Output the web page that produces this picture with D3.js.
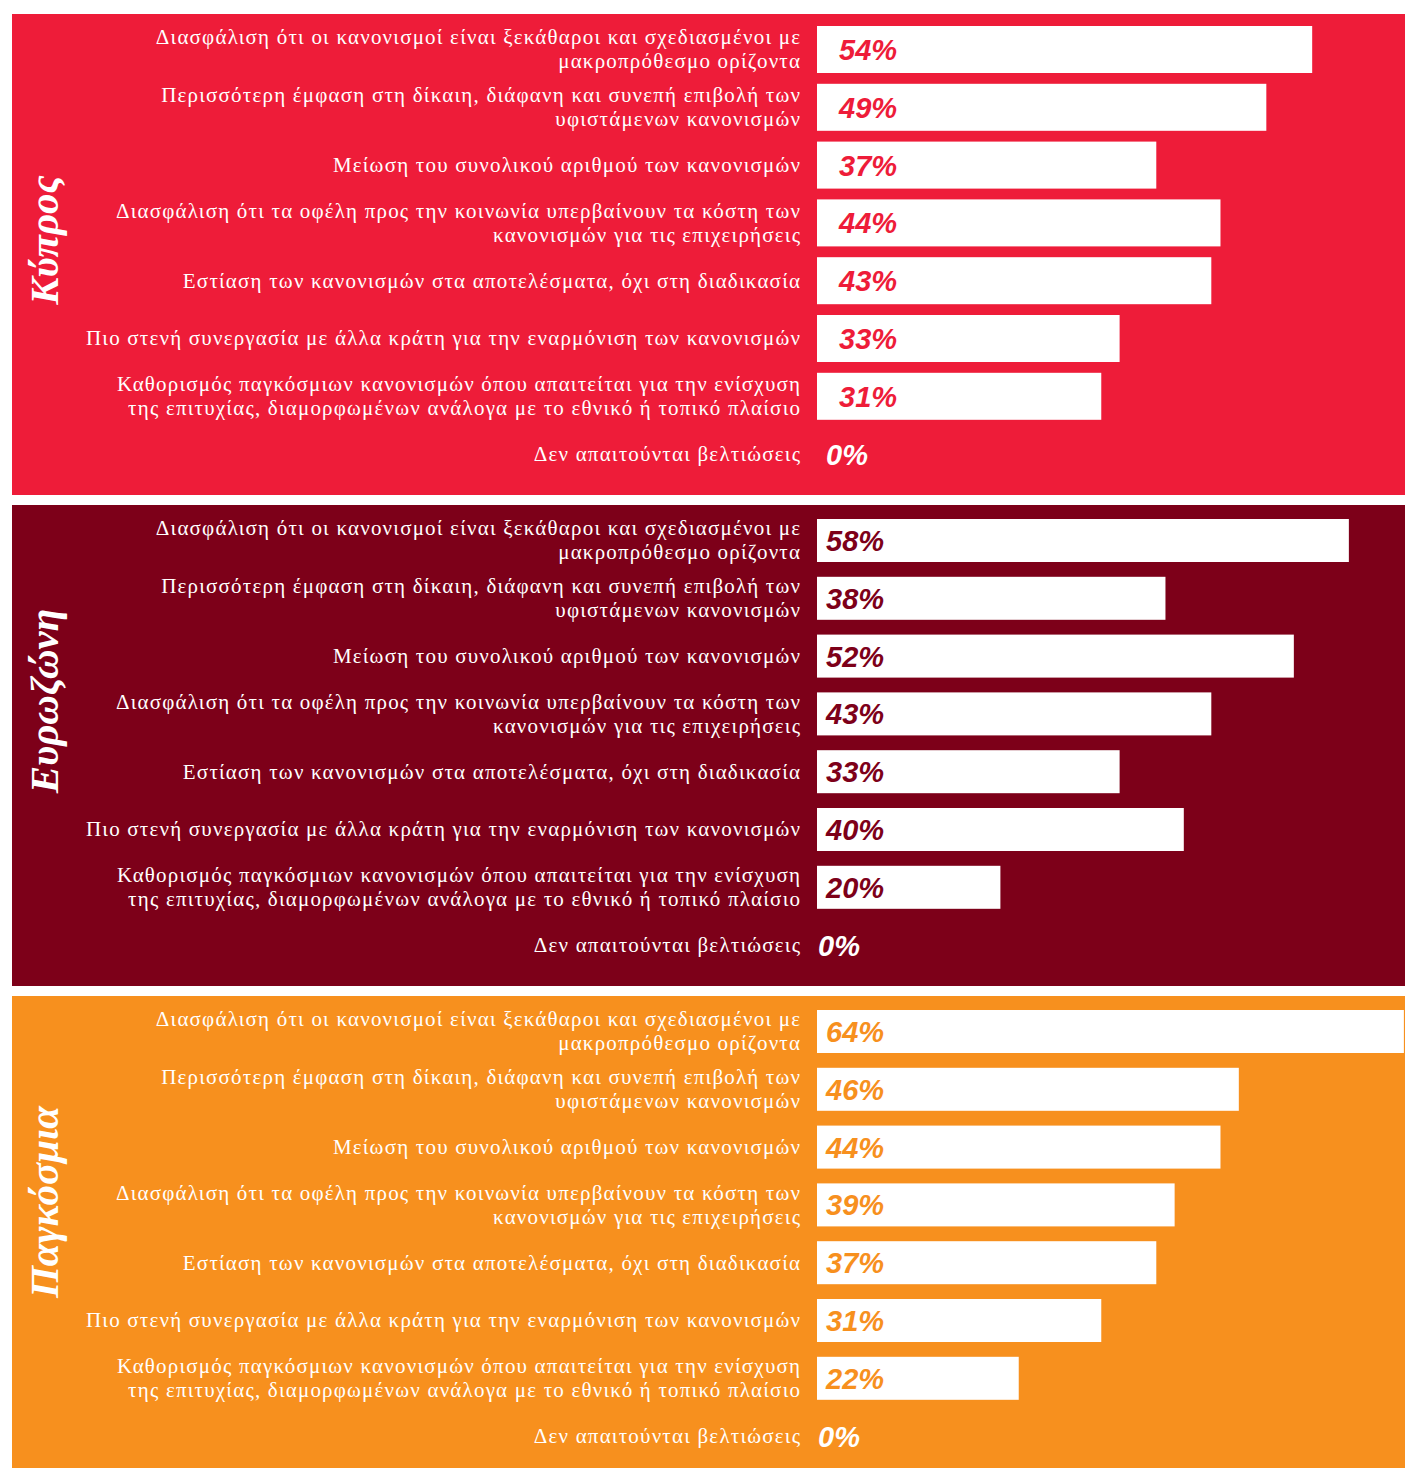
<!DOCTYPE html>
<html>
<head>
<meta charset="utf-8">
<script src="https://cdn.jsdelivr.net/npm/d3@7"></script>
<style>
  html, body { margin: 0; padding: 0; background: #ffffff; }
  svg { display: block; }
</style>
</head>
<body>
<svg id="chart" width="1405" height="1468"></svg>
<script>
// Survey answers: what would improve the regulatory environment
const categories = [
  ["Διασφάλιση ότι οι κανονισμοί είναι ξεκάθαροι και σχεδιασμένοι με", "μακροπρόθεσμο ορίζοντα"],
  ["Περισσότερη έμφαση στη δίκαιη, διάφανη και συνεπή επιβολή των", "υφιστάμενων κανονισμών"],
  ["Μείωση του συνολικού αριθμού των κανονισμών"],
  ["Διασφάλιση ότι τα οφέλη προς την κοινωνία υπερβαίνουν τα κόστη των", "κανονισμών για τις επιχειρήσεις"],
  ["Εστίαση των κανονισμών στα αποτελέσματα, όχι στη διαδικασία"],
  ["Πιο στενή συνεργασία με άλλα κράτη για την εναρμόνιση των κανονισμών"],
  ["Καθορισμός παγκόσμιων κανονισμών όπου απαιτείται για την ενίσχυση", "της επιτυχίας, διαμορφωμένων ανάλογα με το εθνικό ή τοπικό πλαίσιο"],
  ["Δεν απαιτούνται βελτιώσεις"]
];

const regions = ["Κύπρος", "Ευρωζώνη", "Παγκόσμια"];

const cyprusValues   = [54, 49, 37, 44, 43, 33, 31, 0];
const eurozoneValues = [58, 38, 52, 43, 33, 40, 20, 0];
const globalValues   = [64, 46, 44, 39, 37, 31, 22, 0];

const seriesValues = [cyprusValues, eurozoneValues, globalValues];
const regionColors = ["#ee1c39", "#7d0019", "#f7901e"];

// Panel geometry
const panels = [
  { top: 14,  height: 481, barH: 47, labelInset: 22, titleY: 240 },
  { top: 505, height: 481, barH: 43, labelInset: 9,  titleY: 701 },
  { top: 996, height: 472, barH: 43, labelInset: 9,  titleY: 1202 }
];

const svg = d3.select("#chart");
const panelLeft = 12, panelRight = 1405;
const barStart = 817;
const labelRight = 800;
const rowStep = 57.8;

const x = d3.scaleLinear().domain([0, 100]).range([barStart, barStart + 917]);

regions.forEach((region, i) => {
  const p = panels[i];
  const color = regionColors[i];
  const values = seriesValues[i];
  const g = svg.append("g");

  g.append("rect")
    .attr("x", panelLeft).attr("y", p.top)
    .attr("width", panelRight - panelLeft).attr("height", p.height)
    .attr("fill", color);

  const firstCenter = p.top + 35.5;
  const y = d3.scaleBand()
    .domain(d3.range(categories.length))
    .range([firstCenter - rowStep / 2, firstCenter - rowStep / 2 + rowStep * categories.length])
    .paddingInner(1 - p.barH / rowStep)
    .paddingOuter((1 - p.barH / rowStep) / 2);

  const rows = g.selectAll("g.row")
    .data(categories.map((c, k) => ({ lines: c, value: values[k], k })))
    .join("g")
    .attr("class", "row")
    .attr("transform", d => `translate(0,${y(d.k) + y.bandwidth() / 2})`);

  // white bars
  rows.filter(d => d.value > 0)
    .append("rect")
    .attr("x", x(0))
    .attr("y", -y.bandwidth() / 2)
    .attr("width", d => x(d.value) - x(0))
    .attr("height", y.bandwidth())
    .attr("fill", "#ffffff");

  // value labels
  rows.append("text")
    .attr("x", d => d.value > 0 ? x(0) + p.labelInset : x(0) + (i === 0 ? 9 : 1))
    .attr("y", 0)
    .attr("dy", "0.36em")
    .attr("fill", d => d.value > 0 ? color : "#ffffff")
    .style("font-family", "'Liberation Sans', Arial, sans-serif")
    .style("font-weight", "bold")
    .style("font-style", "italic")
    .style("font-size", "29px")
    .text(d => d3.format("d")(d.value) + "%");

  // category labels
  rows.append("text")
    .attr("text-anchor", "end")
    .attr("fill", "#ffffff")
    .style("font-family", "'Liberation Serif', 'Times New Roman', serif")
    .style("font-size", "21px")
    .style("letter-spacing", "1.2px")
    .selectAll("tspan")
    .data(d => d.lines.map((line, j) => ({ line, j, n: d.lines.length })))
    .join("tspan")
    .attr("x", labelRight + 1.2)
    .attr("y", t => (t.j - (t.n - 1) / 2) * 24)
    .attr("dy", "0.33em")
    .text(t => t.line);

  // rotated region title
  g.append("text")
    .attr("transform", `translate(58,${p.titleY}) rotate(-90)`)
    .attr("text-anchor", "middle")
    .attr("fill", "#ffffff")
    .style("font-family", "'Liberation Serif', 'Times New Roman', serif")
    .style("font-weight", "bold")
    .style("font-style", "italic")
    .style("font-size", "41px")
    .text(region);
});
</script>
</body>
</html>
